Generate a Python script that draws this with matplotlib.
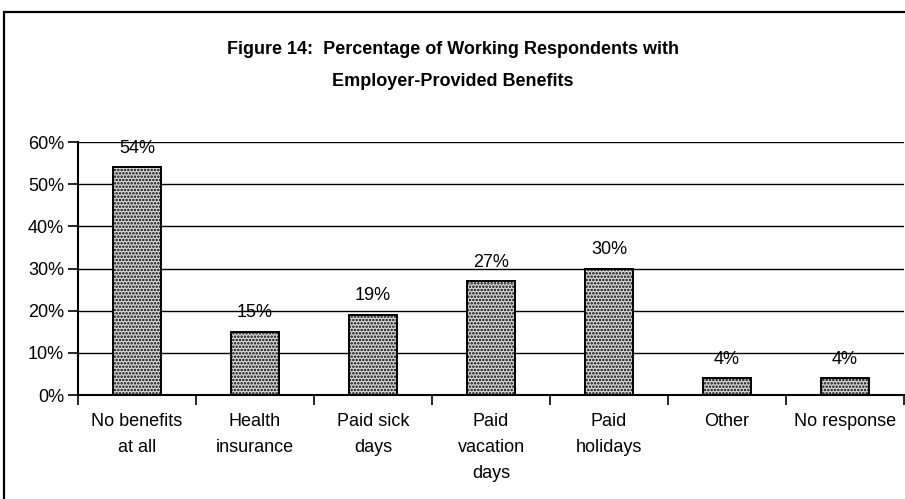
import matplotlib.pyplot as plt
import matplotlib.patches as mpatches
import numpy as np

plt.rcParams['font.family'] = ['Liberation Sans', 'DejaVu Sans']
plt.rcParams['hatch.linewidth'] = 1.2

categories = ['No benefits\nat all', 'Health\ninsurance', 'Paid sick\ndays',
              'Paid\nvacation\ndays', 'Paid\nholidays', 'Other', 'No response']
values = [54, 15, 19, 27, 30, 4, 4]
yticks = [0, 10, 20, 30, 40, 50, 60]


def main():
    fig = plt.figure(figsize=(9.05, 4.99), dpi=100)
    ax = fig.add_axes([78 / 905, 1 - 395 / 499, 826 / 905, 253 / 499])

    # outer frame around the whole chart
    frame = mpatches.Rectangle((4 / 905, -0.05), 1.2, 1 - 12 / 499 + 0.05,
                               transform=fig.transFigure, fill=False,
                               edgecolor='black', linewidth=1.6)
    fig.patches.append(frame)

    x = np.arange(len(categories))
    ax.bar(x, values, width=0.41, facecolor='#d8d8d8', edgecolor='black',
           hatch='.....', linewidth=1.4, zorder=3)

    for xi, v in zip(x, values):
        ax.text(xi, v + 2.5, '%d%%' % v, ha='center', va='bottom', fontsize=13)

    ax.set_xlim(-0.5, len(categories) - 0.5)
    ax.set_ylim(0, 60)
    ax.set_yticks(yticks)
    ax.set_yticklabels(['%d%%' % t for t in yticks], fontsize=13)
    ax.yaxis.grid(True, color='black', linewidth=1.0, zorder=0)
    ax.tick_params(axis='y', direction='out', length=7, width=1.2, pad=3)

    ax.set_xticks(x)
    ax.set_xticklabels(categories, fontsize=13, va='top', linespacing=1.7)
    ax.tick_params(axis='x', which='major', length=0, pad=13)
    ax.set_xticks(np.arange(len(categories) + 1) - 0.5, minor=True)
    ax.tick_params(axis='x', which='minor', direction='out', length=7, width=1.2)

    for side in ['top', 'right']:
        ax.spines[side].set_visible(False)
    ax.spines['left'].set_linewidth(1.5)
    ax.spines['bottom'].set_linewidth(1.5)

    fig.text(0.5, 1 - 50 / 499, 'Figure 14:  Percentage of Working Respondents with',
             ha='center', va='center', fontsize=13, fontweight='bold')
    fig.text(0.5, 1 - 82 / 499, 'Employer-Provided Benefits',
             ha='center', va='center', fontsize=13, fontweight='bold')

    plt.savefig('out.png', dpi=100)


if __name__ == '__main__':
    main()
